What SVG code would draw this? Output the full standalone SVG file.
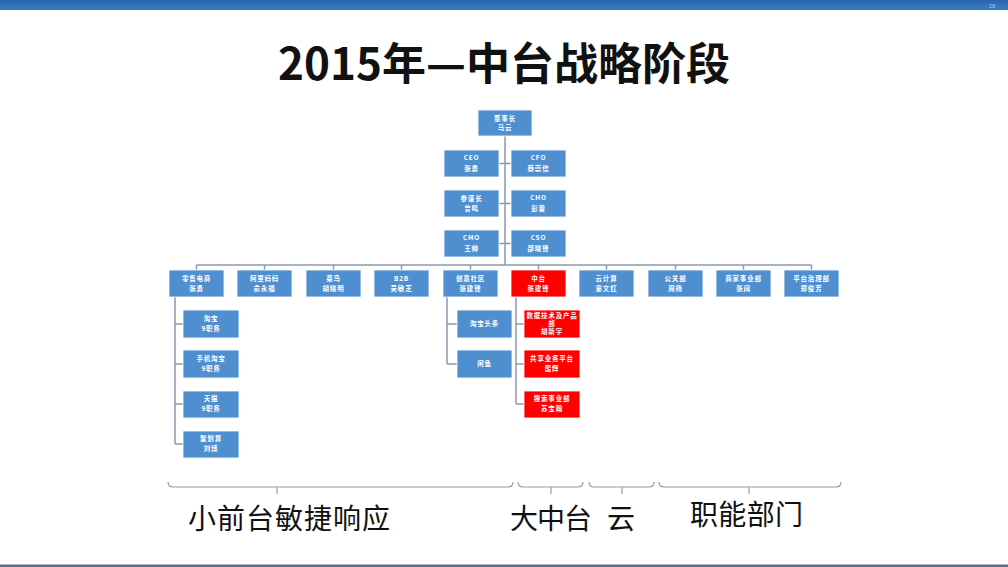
<svg xmlns="http://www.w3.org/2000/svg" width="1008" height="567" viewBox="0 0 1008 567">
<defs>
<linearGradient id="bar" x1="0" y1="0" x2="0" y2="1">
<stop offset="0" stop-color="#2a66ad"/>
<stop offset="1" stop-color="#3b7dc4"/>
</linearGradient>
<style>
.b{fill:#4f8fd0;stroke:#ffffff;stroke-width:0.8}
.r{fill:#ff0000;stroke:#ffffff;stroke-width:0.8}
.t{font-family:"Noto Sans CJK SC","Liberation Sans",sans-serif;font-size:6.5px;font-weight:bold;fill:#ffffff;text-anchor:middle;letter-spacing:0.8px}
.c{fill:none;stroke:#8a9bb0;stroke-width:1.5}
.br{fill:none;stroke:#9a9a9a;stroke-width:1.2}
.lab{font-family:"Noto Sans CJK SC",sans-serif;font-size:28px;fill:#111111}
</style>
</defs>
<rect x="0" y="0" width="1008" height="567" fill="#ffffff"/>
<rect x="0" y="0" width="1008" height="10" fill="url(#bar)"/>
<text x="992" y="8" font-family="Liberation Sans, sans-serif" font-size="6" fill="#a9c4e2" text-anchor="middle">28</text>
<rect x="0" y="564.5" width="1008" height="2.5" fill="#5a7089"/>
<text x="504" y="80" font-family="Noto Sans CJK SC, sans-serif" font-size="44" font-weight="bold" fill="#111111" text-anchor="middle">2015年—中台战略阶段</text>

<g id="connectors">
<path class="c" d="M505,136 V265 M196.5,265 H811.5"/>
<path class="c" d="M499,163.5 H511 M499,203.5 H511 M499,243.5 H511"/>
<path class="c" d="M196.5,265 V270 M264.5,265 V270 M333.5,265 V270 M401.5,265 V270 M470.5,265 V270 M538.5,265 V270 M606.5,265 V270 M675.5,265 V270 M743.5,265 V270 M811.5,265 V270"/>
<path class="c" d="M175,297 V444 M175,324 H183 M175,364 H183 M175,404 H183 M175,444 H183"/>
<path class="c" d="M447,297 V364 M447,324 H457 M447,364 H457"/>
<path class="c" d="M516,297 V404 M516,324 H524 M516,364 H524 M516,404 H524"/>
</g>

<g id="n-chairman"><rect class="b" x="478" y="110" width="54" height="26"/><text class="t" x="505" y="121">董事长</text><text class="t" x="505" y="130">马云</text></g>
<g id="n-ceo"><rect class="b" x="444" y="150" width="55" height="27"/><text class="t" x="471.5" y="160">CEO</text><text class="t" x="471.5" y="171">张勇</text></g>
<g id="n-cfo"><rect class="b" x="511" y="150" width="55" height="27"/><text class="t" x="538.5" y="160">CFO</text><text class="t" x="538.5" y="171">蔡崇信</text></g>
<g id="n-cos"><rect class="b" x="444" y="190" width="55" height="27"/><text class="t" x="471.5" y="201">参谋长</text><text class="t" x="471.5" y="211">曾鸣</text></g>
<g id="n-cho"><rect class="b" x="511" y="190" width="55" height="27"/><text class="t" x="538.5" y="200">CHO</text><text class="t" x="538.5" y="211">彭蕾</text></g>
<g id="n-cmo"><rect class="b" x="444" y="230" width="55" height="27"/><text class="t" x="471.5" y="240">CMO</text><text class="t" x="471.5" y="251">王帅</text></g>
<g id="n-cso"><rect class="b" x="511" y="230" width="55" height="27"/><text class="t" x="538.5" y="240">CSO</text><text class="t" x="538.5" y="251">邵晓锋</text></g>

<g id="d1"><rect class="b" x="169" y="270" width="55" height="27"/><text class="t" x="196.5" y="281">零售电商</text><text class="t" x="196.5" y="291">张勇</text></g>
<g id="d2"><rect class="b" x="237" y="270" width="55" height="27"/><text class="t" x="264.5" y="281">阿里妈妈</text><text class="t" x="264.5" y="291">俞永福</text></g>
<g id="d3"><rect class="b" x="306" y="270" width="55" height="27"/><text class="t" x="333.5" y="281">菜鸟</text><text class="t" x="333.5" y="291">胡晓明</text></g>
<g id="d4"><rect class="b" x="374" y="270" width="55" height="27"/><text class="t" x="401.5" y="281">B2B</text><text class="t" x="401.5" y="291">吴敏芝</text></g>
<g id="d5"><rect class="b" x="443" y="270" width="55" height="27"/><text class="t" x="470.5" y="281">创意社区</text><text class="t" x="470.5" y="291">张建锋</text></g>
<g id="d6"><rect class="r" x="511" y="270" width="55" height="27"/><text class="t" x="538.5" y="281">中台</text><text class="t" x="538.5" y="291">张建锋</text></g>
<g id="d7"><rect class="b" x="579" y="270" width="55" height="27"/><text class="t" x="606.5" y="281">云计算</text><text class="t" x="606.5" y="291">童文红</text></g>
<g id="d8"><rect class="b" x="648" y="270" width="55" height="27"/><text class="t" x="675.5" y="281">公关部</text><text class="t" x="675.5" y="291">周扬</text></g>
<g id="d9"><rect class="b" x="716" y="270" width="55" height="27"/><text class="t" x="743.5" y="281">商家事业部</text><text class="t" x="743.5" y="291">张阔</text></g>
<g id="d10"><rect class="b" x="784" y="270" width="55" height="27"/><text class="t" x="811.5" y="281">平台治理部</text><text class="t" x="811.5" y="291">郑俊芳</text></g>

<g id="s1"><rect class="b" x="183" y="310" width="56" height="28"/><text class="t" x="211" y="321">淘宝</text><text class="t" x="211" y="331">9职务</text></g>
<g id="s2"><rect class="b" x="183" y="350" width="56" height="28"/><text class="t" x="211" y="361">手机淘宝</text><text class="t" x="211" y="371">9职务</text></g>
<g id="s3"><rect class="b" x="183" y="391" width="56" height="27"/><text class="t" x="211" y="401">天猫</text><text class="t" x="211" y="411">9职务</text></g>
<g id="s4"><rect class="b" x="183" y="431" width="56" height="27"/><text class="t" x="211" y="441">聚划算</text><text class="t" x="211" y="451">刘博</text></g>

<g id="m1"><rect class="b" x="457" y="310" width="55" height="28"/><text class="t" x="484.5" y="326">淘宝头条</text></g>
<g id="m2"><rect class="b" x="457" y="350" width="55" height="28"/><text class="t" x="484.5" y="366">闲鱼</text></g>

<g id="r1"><rect class="r" x="524" y="310" width="56" height="28"/><text class="t" x="552" y="318">数据技术及产品</text><text class="t" x="552" y="326">部</text><text class="t" x="552" y="334">胡新宇</text></g>
<g id="r2"><rect class="r" x="524" y="350" width="56" height="28"/><text class="t" x="552" y="361">共享业务平台</text><text class="t" x="552" y="371">殷辉</text></g>
<g id="r3"><rect class="r" x="524" y="391" width="56" height="27"/><text class="t" x="552" y="401">搜索事业部</text><text class="t" x="552" y="411">苏宝翰</text></g>

<g id="braces">
<path class="br" d="M168,482 Q168,487 173,487 H277 V494 M277,487 H508 Q513,487 513,482"/>
<path class="br" d="M518,482 Q518,487 523,487 H551 V494 M551,487 H578 Q583,487 583,482"/>
<path class="br" d="M589,482 Q589,487 594,487 H622 V494 M622,487 H649 Q654,487 654,482"/>
<path class="br" d="M659,482 Q659,487 664,487 H749 V494 M749,487 H836 Q841,487 841,482"/>
</g>
<text class="lab" x="188" y="529" textLength="202">小前台敏捷响应</text>
<text class="lab" x="510" y="529" textLength="82">大中台</text>
<text class="lab" x="607" y="529">云</text>
<text class="lab" x="690" y="525" textLength="113">职能部门</text>
</svg>
